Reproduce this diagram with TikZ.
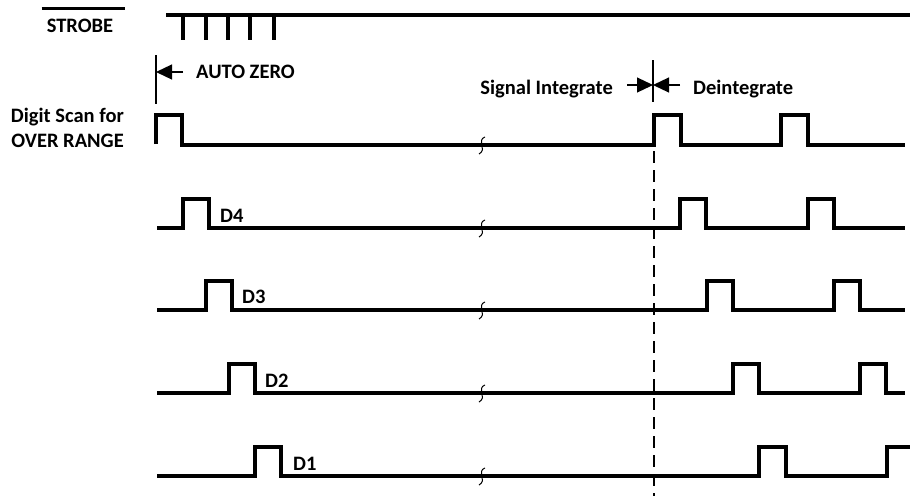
\documentclass[tikz,border=0pt]{standalone}
\usepackage{fontspec}
\setmainfont{Carlito}
\usetikzlibrary{arrows.meta, calc}

\begin{document}
\begin{tikzpicture}[x=1pt, y=-1pt,
    wave/.style={line width=3.2pt},
    thinline/.style={line width=1.2pt},
    lbl/.style={font=\fontsize{20.5}{22}\selectfont\bfseries, inner sep=0pt},
    arr/.style={line width=1.2pt, -{Triangle[length=16pt, width=15pt]}},
  ]
    \useasboundingbox (0,0) rectangle (910,496);

    % signal names
    \node (strobe) [lbl, anchor=base] at (80,32) {STROBE};
    \draw[wave] ($(strobe.north west)+(-5,-10)$) -- ($(strobe.north east)+(12,-10)$);
    \node (digscan) [lbl, anchor=base east] at (124,122) {Digit Scan for};
    \node (overrange) [lbl, anchor=base east] at (124,147) {OVER RANGE};

    % phase markers
    \node (autozero) [lbl, anchor=base west] at (196,78) {AUTO ZERO};
    \node (sigint) [lbl, anchor=base east] at (613,94) {Signal Integrate};
    \node (deint) [lbl, anchor=base west] at (693,94) {Deintegrate};
    \coordinate (aztop) at (156,55);
    \coordinate (azbot) at (156,104);
    \coordinate (aztail) at (183,72);
    \draw[thinline] (aztop) -- (azbot);
    \draw[arr] (aztail) -- (aztop |- aztail);
    \coordinate (ditop) at (653,60);
    \coordinate (dibot) at (653,102);
    \coordinate (dileft) at (627,85);
    \coordinate (diright) at (680,85);
    \draw[thinline] (ditop) -- (dibot);
    \draw[arr] (dileft) -- (ditop |- dileft);
    \draw[arr] (diright) -- (ditop |- diright);
    \draw[thinline, dash pattern=on 12pt off 7pt] (654,151) -- (654,496);

    % strobe
    \draw[wave] (166,15) -- (910,15);
    \foreach \x in {183,206,228,250,274}
        \draw[wave] (\x,15) -- (\x,40);

    % digit scan waveforms
    \draw[wave] (156,144) -- (156,115) -- (182,115) -- (182,145) -- (654,145) -- (654,115) -- (681,115)
        -- (681,145) -- (781,145) -- (781,115) -- (808,115) -- (808,145) -- (905,145);
    \foreach \y/\a/\b/\c in {228/183/680/808, 310/206/707/834, 393/229/733/860}
        \draw[wave] (157,\y) -- (\a,\y) -- ++(0,-29) -- ++(26,0) -- ++(0,29) -- (\b,\y) -- ++(0,-29) -- ++(26,0)
            -- ++(0,29) -- (\c,\y) -- ++(0,-29) -- ++(26,0) -- ++(0,29) -- (905,\y);
    \draw[wave] (157,476) -- (255,476) -- ++(0,-29) -- ++(26,0) -- ++(0,29) -- (759,476) -- ++(0,-29) -- ++(27,0)
        -- ++(0,29) -- (887,476) -- ++(0,-29) -- (910,447);
    \foreach \n/\x/\y in {4/220/222, 3/242/303, 2/265/387, 1/293/470}
        \node (d\n) [lbl, anchor=base west] at (\x,\y) {D\n};

    % time breaks
    \foreach \y in {145,228,310,393,476}
        \draw[line width=1pt] (485,\y-8) .. controls (481,\y-7) and (481,\y-3) .. (482,\y)
            .. controls (483,\y+3) and (483,\y+7) .. (479,\y+9);
\end{tikzpicture}
\end{document}
